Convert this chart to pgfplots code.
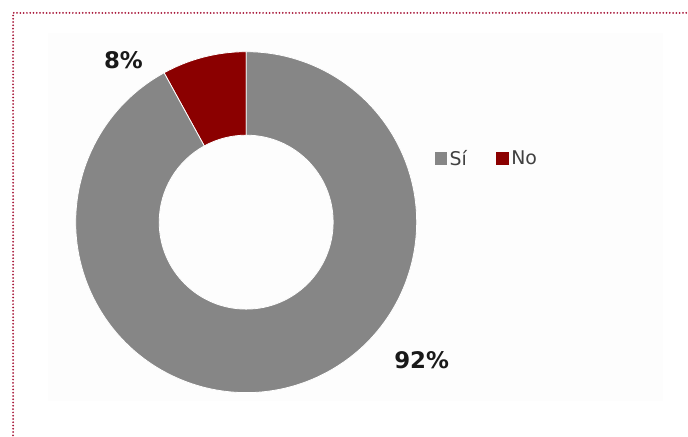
\documentclass[border=0pt]{standalone}
\usepackage{pgfplots}
\pgfplotsset{compat=1.18}
\usepackage{pgfplotstable}
\usepackage{fontspec}
\setmainfont{DejaVu Sans}
\usetikzlibrary{calc}

\definecolor{siGray}{HTML}{868686}
\definecolor{noRed}{HTML}{8B0000}
\definecolor{frameRed}{HTML}{A8183A}
\definecolor{legText}{HTML}{404040}

% answers (percent)
\pgfplotstableread{
label value
Sí 92
No 8
}\donutdata

\begin{document}
\pgfplotstablegetelem{0}{value}\of\donutdata \let\vsi\pgfplotsretval
\pgfplotstablegetelem{1}{value}\of\donutdata \let\vno\pgfplotsretval
\pgfmathsetmacro\ano{90+3.6*\vno}
\begin{tikzpicture}
\begin{axis}[
  width=688pt, height=438pt, scale only axis,
  xmin=0, xmax=688, ymin=0, ymax=438,
  hide axis, clip=false]
% page extent
\path (axis cs:0,0) rectangle (axis cs:688,438);
% faint plot area
\fill[black!0.8] (axis cs:45,35) rectangle (axis cs:664,405);
% dotted frame
\draw[frameRed, line width=2pt, dash pattern=on 0pt off 3.3pt, line cap=round]
  (axis cs:10,0) -- (axis cs:10,425) -- (axis cs:688,425);
% donut: No slice, then Si slice
\coordinate (c) at (axis cs:244.5,214.5);
\fill[noRed, draw=white, line width=0.8pt]
  ($(c)+(90:171.5pt)$) arc[start angle=90, end angle=\ano, radius=171.5pt]
  -- ($(c)+(\ano:87.5pt)$) arc[start angle=\ano, end angle=90, radius=87.5pt] -- cycle;
\fill[siGray, draw=white, line width=0.8pt]
  ($(c)+(\ano:171.5pt)$) arc[start angle=\ano, end angle=450, radius=171.5pt]
  -- ($(c)+(450:87.5pt)$) arc[start angle=450, end angle=\ano, radius=87.5pt] -- cycle;
% slice labels
\node[font=\bfseries\fontsize{23}{26}\selectfont, text=black!90] at (axis cs:121,377) {\vno\%};
\node[font=\bfseries\fontsize{23}{26}\selectfont, text=black!90] at (axis cs:421,76) {\vsi\%};
% legend
\fill[siGray] (axis cs:434,272) rectangle (axis cs:447,285);
\node[anchor=west, inner sep=0pt, text=legText, font=\fontsize{19}{22}\selectfont] at (axis cs:449,279) {Sí};
\fill[noRed] (axis cs:496,272) rectangle (axis cs:509,285);
\node[anchor=west, inner sep=0pt, text=legText, font=\fontsize{19}{22}\selectfont] at (axis cs:511,279) {No};
\end{axis}
\end{tikzpicture}
\end{document}
